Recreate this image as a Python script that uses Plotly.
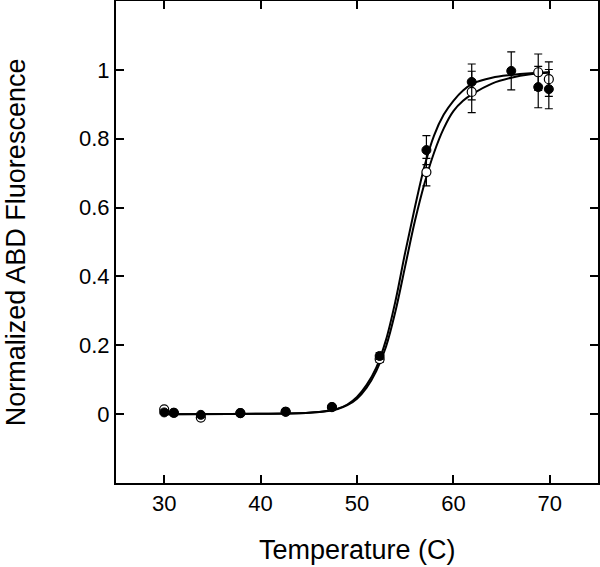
import plotly.graph_objects as go

# measured points (closed circles)
temp_closed = [30, 31, 33.8, 37.9, 42.6, 47.4, 52.35, 57.2, 61.9, 66.0, 68.8, 69.9]
fluor_closed = [0.005, 0.004, -0.002, 0.003, 0.007, 0.021, 0.169, 0.767, 0.965, 0.997, 0.95, 0.944]
err_closed = [0, 0, 0, 0, 0, 0, 0.01, 0.042, 0.052, 0.055, 0.06, 0.057]

# measured points (open circles)
temp_open = [30, 31, 33.8, 37.9, 42.6, 47.4, 52.35, 57.2, 61.9, 68.8, 69.9]
fluor_open = [0.014, 0.004, -0.01, 0.003, 0.007, 0.02, 0.16, 0.703, 0.936, 0.993, 0.973]
err_open = [0, 0, 0, 0, 0, 0, 0.01, 0.04, 0.06, 0.053, 0.05]

# fitted curves
fit_temp = [30, 40, 45, 47, 48, 49, 50, 51, 52, 53, 54, 55, 56, 57, 58, 59, 60, 61, 62, 64, 66, 68, 70]
fit_closed = [0.0, 0.001, 0.004, 0.01, 0.016, 0.028, 0.05, 0.085, 0.135, 0.215, 0.33, 0.47, 0.6,
              0.72, 0.81, 0.87, 0.91, 0.94, 0.96, 0.977, 0.985, 0.99, 0.993]
fit_open = [0.0, 0.001, 0.004, 0.009, 0.015, 0.026, 0.045, 0.077, 0.125, 0.195, 0.3, 0.43, 0.56,
            0.67, 0.76, 0.83, 0.88, 0.91, 0.93, 0.96, 0.977, 0.987, 0.992]

x_ticks = [30, 40, 50, 60, 70]
y_ticks = [0, 0.2, 0.4, 0.6, 0.8, 1]
y_tick_text = ['0', '0.2', '0.4', '0.6', '0.8', '1']

font_name = 'Liberation Sans, Arial'

fig = go.Figure()

for yfit in (fit_closed, fit_open):
    fig.add_trace(go.Scatter(x=fit_temp, y=yfit, mode='lines', line_shape='spline',
                             line=dict(color='black', width=2), showlegend=False))

fig.add_trace(go.Scatter(
    x=temp_open, y=fluor_open, mode='markers', showlegend=False,
    marker=dict(size=9, color='white', line=dict(color='black', width=1.2)),
    error_y=dict(type='data', array=err_open, color='black', thickness=1.2, width=4)))

fig.add_trace(go.Scatter(
    x=temp_closed, y=fluor_closed, mode='markers', showlegend=False,
    marker=dict(size=9, color='black', line=dict(color='black', width=1)),
    error_y=dict(type='data', array=err_closed, color='black', thickness=1.2, width=4)))

axis_style = dict(showline=True, linecolor='black', linewidth=2, mirror='ticks',
                  ticks='inside', ticklen=8, tickwidth=1.5, tickcolor='black',
                  showgrid=False, zeroline=False, automargin=False,
                  tickfont=dict(family=font_name, size=22, color='black'))

fig.update_xaxes(range=[25, 75], tickvals=x_ticks, **axis_style)
fig.update_yaxes(range=[-0.2, 1.2], tickvals=y_ticks, ticktext=y_tick_text, **axis_style)

fig.add_annotation(text='Temperature (C)', xref='paper', yref='paper', x=0.5, y=-0.139,
                   xanchor='center', yanchor='middle', showarrow=False,
                   font=dict(family=font_name, size=27, color='black'))
fig.add_annotation(text='Normalized ABD Fluorescence', xref='paper', yref='paper', x=-0.207, y=0.5,
                   xanchor='center', yanchor='middle', textangle=-90, showarrow=False,
                   font=dict(family=font_name, size=27, color='black'))

fig.update_layout(width=600, height=567, plot_bgcolor='white', paper_bgcolor='white',
                  margin=dict(l=116, r=2, t=1, b=84))

# drop the default page margin so the figure sits at the window's corner
fig.write_html("out.html", config={'displayModeBar': False},
               post_script="document.body.style.margin='0';")
